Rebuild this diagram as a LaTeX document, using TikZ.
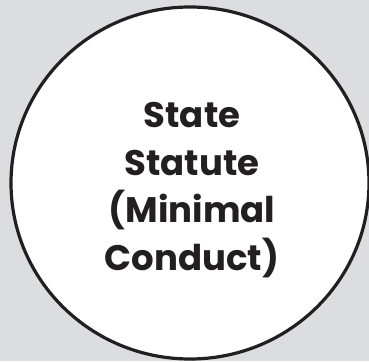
\documentclass[tikz,border=0pt]{standalone}
\usepackage{fontspec}
\setmainfont{Poppins}
\usetikzlibrary{shapes.geometric}
\definecolor{bg}{HTML}{DCDDDF}
\definecolor{ink}{HTML}{231F20}
\tikzset{
  outline/.style={ellipse, draw=ink, line width=3.2pt, fill=white, inner sep=0pt},
  label/.style={align=center, text=ink, font=\fontsize{35.5}{47.5}\selectfont\bfseries, inner sep=0pt}
}
\begin{document}
\begin{tikzpicture}[x=1pt,y=-1pt]
\useasboundingbox (0,0) rectangle (369,361);
\fill[bg] (0,0) rectangle (369,361);
\node[outline, minimum width=358pt, minimum height=352pt] (c) at (190,183) {};
\node[label] (t) at (192,190) {State\\Statute\\(Minimal\\Conduct)};
\end{tikzpicture}
\end{document}
